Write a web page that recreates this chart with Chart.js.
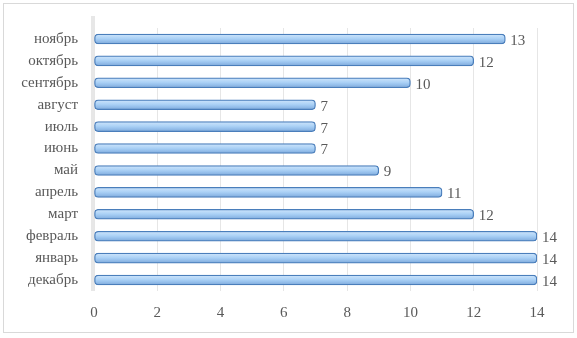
<!DOCTYPE html>
<html>
<head>
<meta charset="utf-8">
<script src="https://cdn.jsdelivr.net/npm/chart.js@4"></script>
<style>
  html, body { margin: 0; padding: 0; background: #fff; }
  #wrap { position: relative; width: 577px; height: 338px; }
</style>
</head>
<body>
<div id="wrap"><canvas id="monthChart" width="577" height="338"></canvas></div>
<script>
  'use strict';

  var months = ['декабрь', 'январь', 'февраль', 'март', 'апрель', 'май',
    'июнь', 'июль', 'август', 'сентябрь', 'октябрь', 'ноябрь'];
  var counts = [14, 14, 14, 12, 11, 9, 7, 7, 7, 10, 12, 13];
  var xTicks = [0, 2, 4, 6, 8, 10, 12, 14];

  var textGray = '#595959';
  var serif = '"Liberation Serif", "Times New Roman", serif';

  // outer frame + 3D wall strip
  var framePlugin = {
    id: 'frame',
    beforeDraw: function (chart) {
      var c = chart.ctx, a = chart.chartArea;
      c.save();
      c.strokeStyle = '#d9d9d9';
      c.lineWidth = 1;
      c.strokeRect(3.5, 3.5, 570, 329);
      c.fillStyle = '#e7e7e7';
      c.fillRect(a.left - 3, a.top - 12, 4, a.bottom - a.top + 12);
      c.restore();
    }
  };

  // value labels at the end of each bar
  var valuePlugin = {
    id: 'values',
    afterDatasetsDraw: function (chart) {
      var c = chart.ctx;
      var meta = chart.getDatasetMeta(0);
      c.save();
      c.font = '15px ' + serif;
      c.fillStyle = textGray;
      c.textAlign = 'left';
      c.textBaseline = 'middle';
      meta.data.forEach(function (bar, i) {
        c.fillText(String(counts[i]), bar.x + 5, bar.y + 2);
      });
      c.restore();
    }
  };

  function barFill(context) {
    var chart = context.chart;
    if (!chart.chartArea || !chart.scales.y) {
      return '#a9cdf3';
    }
    var y = chart.scales.y.getPixelForValue(context.dataIndex);
    var g = chart.ctx.createLinearGradient(0, y - 5, 0, y + 5);
    g.addColorStop(0, '#cfe5fb');
    g.addColorStop(0.45, '#acd2f6');
    g.addColorStop(0.7, '#96c0ec');
    g.addColorStop(1, '#7ea8d8');
    return g;
  }

  new Chart(document.getElementById('monthChart'), {
    type: 'bar',
    data: {
      labels: months,
      datasets: [{
        data: counts,
        backgroundColor: barFill,
        borderColor: '#4a7ebb',
        borderWidth: 1.3,
        borderSkipped: false,
        borderRadius: 4,
        barThickness: 10
      }]
    },
    plugins: [framePlugin, valuePlugin],
    options: {
      indexAxis: 'y',
      responsive: false,
      animation: false,
      layout: { padding: { top: 28, right: 40, left: 0, bottom: 0 } },
      plugins: {
        legend: { display: false },
        tooltip: { enabled: false }
      },
      scales: {
        x: {
          min: 0,
          max: 14,
          afterBuildTicks: function (scale) {
            scale.ticks = xTicks.map(function (v) { return { value: v }; });
          },
          afterFit: function (scale) { scale.height = 47; },
          grid: { color: '#e6e6e6', drawTicks: false },
          border: { display: false },
          ticks: {
            padding: 13,
            color: textGray,
            font: { family: serif, size: 15 }
          }
        },
        y: {
          reverse: true,
          afterFit: function (scale) { scale.width = 94; },
          grid: { display: false },
          border: { display: false },
          ticks: {
            padding: 8,
            color: textGray,
            font: { family: serif, size: 15 }
          }
        }
      }
    }
  });
</script>
</body>
</html>
